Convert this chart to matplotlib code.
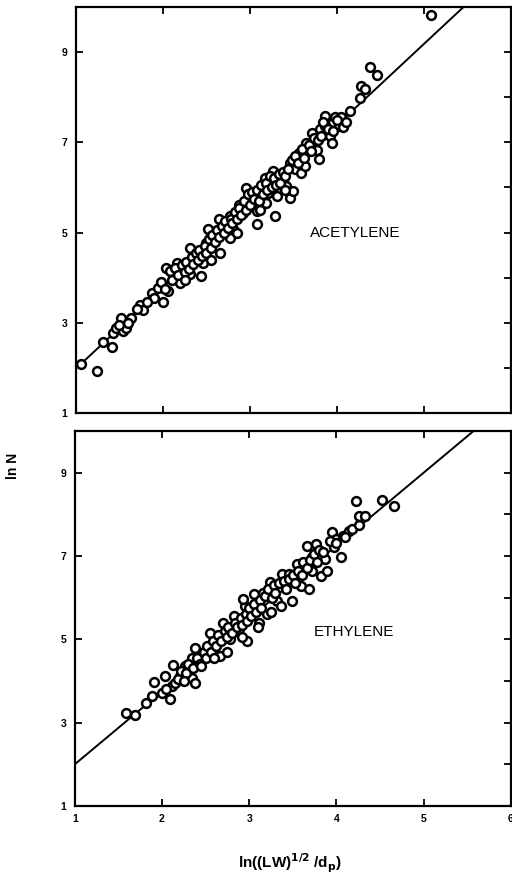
import numpy as np
import matplotlib.pyplot as plt
from matplotlib.ticker import FixedLocator

# acetylene points
acet_x = [1.06, 1.24, 1.31, 1.42, 1.43, 1.46, 1.52, 1.54, 1.58, 1.63, 1.74, 1.77,
          1.87, 1.95, 2.00, 2.06, 2.04, 2.12, 2.20, 2.16, 2.31, 2.31, 2.44, 2.46,
          2.43, 2.50, 2.52, 2.66, 2.66, 2.64, 2.77, 2.81, 2.77, 2.87, 2.92, 2.96,
          2.98, 3.08, 3.08, 3.11, 3.17, 3.19, 3.21, 3.27, 3.29, 3.31, 3.38, 3.42,
          3.46, 3.49, 3.46, 3.52, 3.56, 3.59, 3.63, 3.65, 3.71, 3.77, 3.79, 3.81,
          3.86, 3.86, 3.92, 3.94, 3.96, 3.98, 4.02, 4.05, 4.07, 4.15, 4.26, 4.28,
          4.32, 4.38, 4.46, 5.08,
          2.08, 2.10, 2.14, 2.18, 2.22, 2.25, 2.27, 2.30, 2.33, 2.35, 2.38, 2.40,
          2.42, 2.45, 2.48, 2.50, 2.53, 2.55, 2.57, 2.60, 2.62, 2.65, 2.68, 2.70,
          2.72, 2.75, 2.78, 2.80, 2.83, 2.85, 2.88, 2.90, 2.93, 2.95, 2.98, 3.00,
          3.03, 3.05, 3.08, 3.10, 3.13, 3.15, 3.18, 3.20, 3.23, 3.25, 3.28, 3.30,
          3.33, 3.35, 3.38, 3.40, 3.44, 3.48, 3.52, 3.55, 3.60, 3.62, 3.68, 3.70,
          3.74, 3.78, 3.82, 3.84, 3.90, 3.95, 4.00, 4.10, 1.98, 1.90, 1.82, 1.70,
          1.60, 1.50, 2.02, 2.25, 2.55, 2.85, 3.12, 3.40]
acet_y = [2.08, 1.94, 2.57, 2.46, 2.77, 2.88, 3.10, 2.81, 2.88, 3.10, 3.40, 3.29,
          3.66, 3.77, 3.47, 3.70, 4.21, 4.07, 3.88, 4.33, 4.07, 4.66, 4.03, 4.33,
          4.55, 4.77, 5.07, 4.55, 5.07, 5.29, 4.88, 5.07, 5.36, 5.62, 5.44, 5.99,
          5.73, 5.18, 5.47, 5.81, 6.21, 5.66, 5.88, 6.36, 5.36, 5.81, 6.14, 6.03,
          5.77, 5.92, 6.55, 6.40, 6.77, 6.33, 6.47, 6.99, 7.21, 6.84, 6.62, 7.29,
          7.36, 7.58, 7.14, 6.99, 7.44, 7.55, 7.36, 7.55, 7.33, 7.70, 7.98, 8.25,
          8.18, 8.66, 8.49, 9.82,
          4.15, 3.95, 4.22, 4.05, 4.28, 4.12, 4.35, 4.20, 4.45, 4.30, 4.55, 4.38,
          4.62, 4.48, 4.70, 4.55, 4.85, 4.65, 4.95, 4.78, 5.05, 4.90, 5.15, 5.00,
          5.25, 5.10, 5.30, 5.20, 5.45, 5.30, 5.55, 5.38, 5.70, 5.50, 5.85, 5.62,
          5.90, 5.75, 5.95, 5.70, 6.05, 5.85, 6.10, 5.95, 6.25, 6.00, 6.20, 6.05,
          6.30, 6.10, 6.35, 6.25, 6.40, 6.60, 6.70, 6.55, 6.85, 6.65, 6.95, 6.80,
          7.10, 7.05, 7.15, 7.45, 7.30, 7.25, 7.50, 7.45, 3.90, 3.55, 3.45, 3.30,
          3.00, 2.95, 3.75, 3.95, 4.40, 5.00, 5.50, 5.95]

# ethylene points
eth_x = [1.59, 1.69, 1.82, 1.88, 1.91, 2.00, 2.03, 2.09, 2.13, 2.11, 2.21, 2.26,
         2.34, 2.38, 2.38, 2.34, 2.46, 2.55, 2.59, 2.67, 2.70, 2.78, 2.82, 2.88,
         2.95, 2.97, 2.93, 3.05, 3.11, 3.16, 3.20, 3.24, 3.32, 3.38, 3.36, 3.49,
         3.45, 3.55, 3.59, 3.68, 3.66, 3.72, 3.76, 3.72, 3.82, 3.87, 3.89, 3.95,
         3.97, 3.99, 4.05, 4.08, 4.14, 4.18, 4.22, 4.26, 4.26, 4.33, 4.52, 4.66,
         2.15, 2.18, 2.22, 2.28, 2.30, 2.35, 2.40, 2.43, 2.48, 2.50, 2.52, 2.56,
         2.58, 2.62, 2.64, 2.68, 2.72, 2.74, 2.76, 2.80, 2.84, 2.86, 2.90, 2.92,
         2.96, 2.98, 3.00, 3.02, 3.06, 3.08, 3.12, 3.14, 3.18, 3.22, 3.26, 3.28,
         3.30, 3.34, 3.40, 3.42, 3.46, 3.50, 3.52, 3.56, 3.60, 3.62, 3.66, 3.70,
         3.74, 3.78, 3.80, 3.85, 3.92, 4.00, 4.10, 2.60, 2.75, 2.92, 3.10, 3.25,
         2.45, 2.25, 2.05]
eth_y = [3.22, 3.18, 3.46, 3.65, 3.97, 3.71, 4.12, 3.57, 4.38, 3.88, 4.12, 4.36,
         4.08, 3.94, 4.80, 4.56, 4.52, 5.16, 4.76, 4.60, 5.40, 5.00, 5.56, 5.24,
         5.80, 4.96, 5.96, 6.08, 5.40, 6.12, 5.60, 6.37, 5.92, 6.57, 5.80, 5.92,
         6.57, 6.81, 6.29, 6.21, 7.25, 6.65, 7.29, 6.97, 6.53, 6.93, 6.65, 7.57,
         7.21, 7.41, 6.97, 7.49, 7.61, 7.65, 8.33, 7.75, 7.97, 7.97, 8.35, 8.20,
         3.95, 4.05, 4.25, 4.20, 4.40, 4.30, 4.55, 4.40, 4.70, 4.55, 4.85, 4.70,
         4.95, 4.85, 5.10, 4.95, 5.20, 5.05, 5.30, 5.15, 5.40, 5.30, 5.50, 5.35,
         5.60, 5.45, 5.75, 5.55, 5.85, 5.65, 5.95, 5.75, 6.05, 6.20, 6.00, 6.30,
         6.10, 6.35, 6.40, 6.20, 6.45, 6.55, 6.35, 6.65, 6.55, 6.85, 6.70, 6.90,
         7.05, 6.85, 7.15, 7.10, 7.35, 7.30, 7.45, 4.55, 4.70, 5.05, 5.30, 5.65,
         4.35, 4.00, 3.80]

# fitted lines (slope, intercept)
acet_fit = (1.80, 0.18)
eth_fit = (1.75, 0.25)

plt.rcParams['font.family'] = ['Liberation Sans', 'DejaVu Sans']

fig = plt.figure(figsize=(5.12, 8.91), dpi=100)
ax1 = fig.add_axes([0.148, 0.5365, 0.850, 0.4557])
ax2 = fig.add_axes([0.146, 0.0954, 0.852, 0.4209])


def draw_panel(ax, xs, ys, fit, label, lx, ly):
    xl = np.array([1.0, 6.0])
    ax.plot(xl, fit[0] * xl + fit[1], color='black', lw=1.4, zorder=2)
    ax.scatter(xs, ys, s=40, facecolor='white', edgecolor='black',
               linewidth=1.8, zorder=3, clip_on=False)
    ax.text(lx, ly, label, fontsize=11, va='center', ha='left')
    ax.set_xlim(1, 6)
    ax.set_ylim(1, 10)
    ax.xaxis.set_major_locator(FixedLocator([1, 2, 3, 4, 5, 6]))
    ax.yaxis.set_major_locator(FixedLocator([1, 3, 5, 7, 9]))
    ax.yaxis.set_minor_locator(FixedLocator([2, 4, 6, 8]))
    ax.tick_params(which='major', direction='in', length=5, width=1.3,
                   top=True, right=True, labelsize=7.5, pad=6)
    ax.tick_params(which='minor', direction='in', length=5, width=1.3,
                   left=False, right=True)
    for t in ax.get_xticklabels() + ax.get_yticklabels():
        t.set_fontweight('bold')
    for sp in ax.spines.values():
        sp.set_linewidth(1.6)


draw_panel(ax1, acet_x, acet_y, acet_fit, 'ACETYLENE', 3.69, 5.0)
draw_panel(ax2, eth_x, eth_y, eth_fit, 'ETHYLENE', 3.74, 5.17)
ax1.tick_params(labelbottom=False)

fig.text(0.025, 0.477, 'ln N', rotation=90, fontsize=10, fontweight='bold',
         ha='center', va='center')
fig.text(0.567, 0.031, r'ln((LW)$^{\mathbf{1/2}}$ /d$_\mathbf{p}$)', fontsize=11,
         fontweight='bold', ha='center', va='center')

fig.savefig('out.png', dpi=100)
